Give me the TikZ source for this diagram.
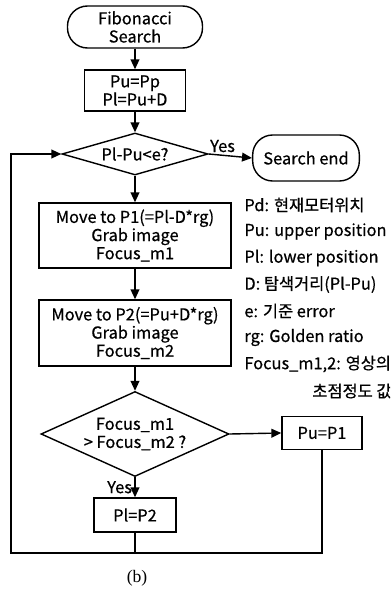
\documentclass[tikz,border=0pt]{standalone}
\usepackage{fontspec}
\setmainfont{Noto Sans CJK KR}[FakeBold=0.6]
\newfontfamily\capfont{Liberation Serif}
\usepackage{tikz}
\usetikzlibrary{positioning, arrows.meta, calc, shapes.geometric}

\begin{document}
\begin{tikzpicture}[
    x=0.03cm, y=-0.03cm,
    every node/.style={font=\fontsize{14}{15.5}\selectfont, inner sep=1pt},
    term/.style={draw, line width=1.2pt, rounded corners=0.6cm, align=center},
    proc/.style={draw, line width=1.2pt, align=center},
    dec/.style={draw, line width=1.2pt, shape=diamond, inner sep=0pt},
    legend/.style={anchor=west},
    flow/.style={line width=1.2pt, -{Triangle[length=8.5pt, width=7.5pt]}},
    link/.style={line width=1.2pt}
  ]
  \clip (0,0) rectangle (390,592);
  \def\ax{135}
  % main column
  \node[term, minimum width=4.05cm, minimum height=1.26cm] (start) at (\ax,27) {Fibonacci\\Search};
  \node[proc, minimum width=3.03cm, minimum height=1.23cm] (init) at (\ax,90.5) {Pu=Pp\\Pl=Pu+D};
  \node[dec, minimum width=4.38cm, minimum height=1.26cm,
        label={center:Pl-Pu<e?}] (chk) at (\ax,154) {};
  \node[term, minimum width=3.2cm, minimum height=1.38cm] (stop) at (306,158) {Search end};
  \node[proc, minimum width=5.76cm, minimum height=1.95cm] (mvone) at (\ax,235.5) {Move to P1(=Pl-D*rg)\\Grab image\\Focus\_m1};
  \node[proc, minimum width=5.76cm, minimum height=1.98cm] (mvtwo) at (\ax,333) {Move to P2(=Pu+D*rg)\\Grab image\\Focus\_m2};
  \node[dec, minimum width=5.64cm, minimum height=2.55cm,
        label={[align=center]center:Focus\_m1\\> Focus\_m2 ?}] (cmp) at (\ax,434) {};
  \node[proc, minimum width=2.4cm, minimum height=1.0cm] (upd) at (322,433) {Pu=P1};
  \node[proc, minimum width=2.46cm, minimum height=1.02cm] (low) at (\ax,515) {Pl=P2};
  \coordinate (corner) at (11,553);

  \draw[flow] (start) -- (init);
  \draw[flow] (init) -- (chk);
  \draw[flow] (chk.east) -- node[pos=0.32, above=1pt] {Yes} (stop.west);
  \draw[flow] (chk) -- (mvone);
  \draw[flow] (mvone) -- (mvtwo);
  \draw[flow] (mvtwo) -- (cmp);
  \draw[flow] (cmp.east) -- (upd.west);
  \draw[flow] (cmp.south) -- node[left=1pt] {Yes} (low.north);
  \draw[link] (low.south) -- (low.south |- corner);
  \draw[flow] (upd.south) |- (corner) |- (chk.west);

  % legend
  \node[legend] (lpd) at (243,205) {Pd: 현재모터위치};
  \node[legend] (lpu) at (243,231.5) {Pu: upper position};
  \node[legend] (lpl) at (243,258) {Pl: lower position};
  \node[legend] (ld) at (243,284.5) {D: 탐색거리(Pl-Pu)};
  \node[legend] (le) at (243,311) {e: 기준 error};
  \node[legend] (lrg) at (243,337.5) {rg: Golden ratio};
  \node[legend] (lfm) at (243,364) {Focus\_m1,2: 영상의};
  \node[legend] (lfm2) at (311,391) {초점정도 값};

  \node[font=\capfont\fontsize{15}{17}\selectfont] (cap) at (137,578) {(b)};
\end{tikzpicture}
\end{document}
